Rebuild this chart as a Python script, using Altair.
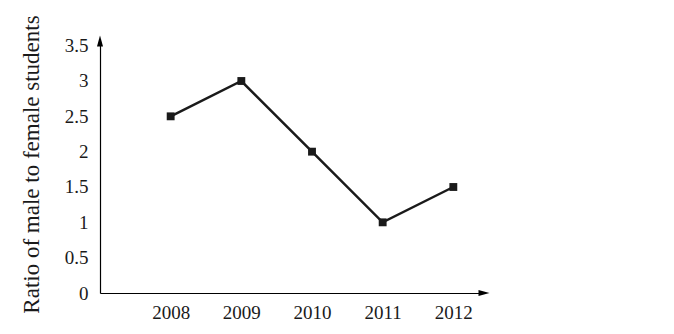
import altair as alt
import pandas as pd

years = [2008, 2009, 2010, 2011, 2012]
ratios = [2.5, 3.0, 2.0, 1.0, 1.5]
y_ticks = [0, 0.5, 1, 1.5, 2, 2.5, 3, 3.5]
x_ticks = [2008, 2009, 2010, 2011, 2012]
y_title = "Ratio of male to female students"

X_MIN, X_MAX = 2007, 2012.434
Y_MIN, Y_MAX = 0, 3.566

FONT = "Liberation Serif"
INK = "#1a1a1a"

df = pd.DataFrame({"year": years, "ratio": ratios})

xs = alt.Scale(domain=[X_MIN, X_MAX], nice=False, zero=False)
ys = alt.Scale(domain=[Y_MIN, Y_MAX], nice=False)

x_axis = alt.Axis(values=x_ticks, format="d", title=None, labelPadding=10)
y_axis = alt.Axis(values=y_ticks, format="~g", labelPadding=12,
                  title=y_title, titleAngle=270, titleAlign="center",
                  titleBaseline="alphabetic", titleX=-62, titleY=123)

x_enc = alt.X("year:Q", scale=xs, axis=x_axis)
y_enc = alt.Y("ratio:Q", scale=ys, axis=y_axis)

line = alt.Chart(df).mark_line(color=INK, strokeWidth=2.5).encode(x=x_enc, y=y_enc)
pts = alt.Chart(df).mark_point(shape="square", filled=True, size=62, color=INK, opacity=1).encode(
    x=x_enc, y=y_enc)

up_df = pd.DataFrame({"year": [X_MIN], "ratio": [Y_MAX]})
right_df = pd.DataFrame({"year": [X_MAX], "ratio": [Y_MIN]})
up = alt.Chart(up_df).mark_point(
    shape="M0,-1L0.55,1L-0.55,1Z", filled=True, size=121, color="black", opacity=1).encode(
    x=x_enc, y=y_enc)
right = alt.Chart(right_df).mark_point(
    shape="M1,0L-1,-0.55L-1,0.55Z", filled=True, size=121, color="black", opacity=1).encode(
    x=x_enc, y=y_enc)

chart = alt.layer(line, pts, up, right).properties(
    width=384, height=252,
    autosize=alt.AutoSizeParams(type="none"),
    padding={"left": 100, "top": 41, "right": 190, "bottom": 41},
    background="white",
).configure_view(stroke=None).configure_axis(
    grid=False, ticks=False, domain=True, domainColor="black", domainWidth=1.2,
    labelFont=FONT, labelFontSize=19, labelColor=INK, labelFlush=False,
    labelOverlap=False, labelBound=False,
    titleFont=FONT, titleFontSize=23, titleFontWeight="normal", titleColor=INK,
)

chart.save("out.html", embed_options={"renderer": "svg", "actions": False})
